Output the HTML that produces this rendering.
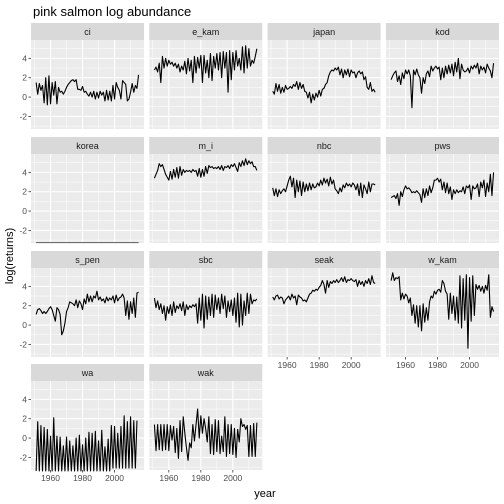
<!DOCTYPE html>
<html><head><meta charset="utf-8"><style>
body{margin:0;background:#fff;}
svg{display:block;font-family:"Liberation Sans",Arial,sans-serif;}
</style></head><body>
<svg id="c" width="504" height="504" viewBox="0 0 504 504">
<text x="33" y="16" font-size="13" fill="#000">pink salmon log abundance</text>
<text x="265" y="497" font-size="11" fill="#000" text-anchor="middle">year</text>
<text transform="translate(13,256) rotate(-90)" font-size="11" fill="#000" text-anchor="middle">log(returns)</text>
<g id="panels"></g>
</svg>
<script>
const startYear = 1951;
const panelNames = ["ci","e_kam","japan","kod","korea","m_i","nbc","pws","s_pen","sbc","seak","w_kam","wa","wak"];
const ci = [1.5,0.3,1.4,0.7,1.2,-0.6,2.0,-0.8,2.2,-0.7,1.5,0.2,1.6,-0.7,1.0,0.5,0.6,0.3,0.6,1.0,1.3,1.5,1.7,1.8,1.6,1.8,0.8,0.8,0.7,1.1,0.5,0.6,0.3,0.1,0.5,0,0.6,-0.2,0.5,-0.1,0.6,0.2,0.5,-0.4,0.7,-0.3,0.6,-0.4,1.2,-0.2,1.5,1.0,0.7,-0.2,1.7,1.5,1.3,-0.4,-0.2,0.5,1.4,0.5,1.2,0.9,2.3];
const e_kam = [2.8,3.1,2.6,3.5,1.5,4.2,3.0,4.0,3.2,3.8,3.4,3.6,3.2,3.5,3.0,3.4,2.6,3.2,2.8,3.7,2.4,4.0,2.7,3.8,1.5,4.2,2.5,4.1,3.0,4.3,1.5,4.3,2.5,3.8,2.0,4.5,1.7,4.2,3.0,4.5,2.8,4.6,2.0,4.7,3.0,4.6,0.5,4.8,1.8,4.6,2.8,4.8,3.2,4.0,2.8,5.2,2.5,5.3,3.0,5.0,3.2,3.8,3.5,4.2,5.0];
const japan = [0.6,0.3,1.4,0.6,1.3,0.4,1.0,0.5,1.2,0.8,0.9,1.1,0.9,1.3,1.1,1.6,0.8,1.5,0.9,1.3,0.6,0.5,-0.1,0.5,-0.6,0.3,-0.3,0.4,0.0,0.7,0.1,0.8,0.9,1.3,1.5,2.2,2.6,2.8,2.7,3.0,2.8,3.1,2.3,2.9,2.0,2.8,2.3,2.9,2.1,2.8,2.5,2.6,2.0,2.5,2.7,2.4,2.6,1.8,2.1,1.0,0.8,1.5,0.6,0.8,0.5];
const kod = [1.8,2.2,2.5,2.7,1.6,2.2,1.3,2.5,1.9,2.8,2.4,2.8,2.2,-1.1,2.8,2.3,2.9,2.3,2.0,0.4,2.0,1.4,2.4,2.7,2.1,3.2,2.7,3.0,3.2,2.9,3.1,1.8,3.0,2.0,3.2,2.4,3.3,2.5,3.4,2.2,3.6,2.6,4.0,1.9,3.4,2.8,2.6,2.7,3.0,2.5,3.2,2.9,3.3,3.0,3.5,2.4,3.2,2.8,3.1,2.5,3.4,3.0,2.7,2.0,3.5];
const korea = [-3.25,-3.25,-3.25,-3.25,-3.25,-3.25,-3.25,-3.25,-3.25,-3.25,-3.25,-3.25,-3.25,-3.25,-3.25,-3.25,-3.25,-3.25,-3.25,-3.25,-3.25,-3.25,-3.25,-3.25,-3.25,-3.25,-3.25,-3.25,-3.25,-3.25,-3.25,-3.25,-3.25,-3.25,-3.25,-3.25,-3.25,-3.25,-3.25,-3.25,-3.25,-3.25,-3.25,-3.25,-3.25,-3.25,-3.25,-3.25,-3.25,-3.25,-3.25,-3.25,-3.25,-3.25,-3.25,-3.25,-3.25,-3.25,-3.25,-3.25,-3.25,-3.25,-3.25,-3.25,-3.25];
const m_i = [3.4,3.8,4.2,4.9,4.6,4.8,4.3,3.8,3.5,3.2,4.1,3.3,4.3,3.5,4.5,3.4,4.6,3.7,4.3,4.0,4.2,4.1,4.2,4.0,4.3,4.1,4.2,3.6,4.4,3.5,4.3,3.6,4.6,3.9,4.7,4.5,4.6,4.4,4.5,4.4,4.6,4.3,4.7,4.2,4.6,4.5,4.7,4.4,4.8,4.6,4.9,4.5,4.1,5.0,4.6,5.2,4.7,5.4,4.8,5.2,4.9,5.1,4.6,4.6,4.2];
const nbc = [2.4,1.6,2.3,1.5,2.2,1.8,2.1,2.3,2.0,2.6,3.2,3.6,2.5,3.4,1.4,3.2,2.0,3.1,1.6,3.0,2.0,2.8,2.1,2.9,2.2,2.8,2.4,2.5,2.9,2.6,3.2,2.7,3.4,2.9,3.3,2.6,3.5,2.8,3.2,2.3,2.1,1.8,2.4,2.0,2.7,2.4,2.9,2.6,2.8,2.5,2.9,2.7,2.2,2.8,1.6,2.9,1.4,2.7,2.3,1.8,3.0,2.0,2.8,2.8,2.7];
const pws = [1.4,1.5,1.6,1.3,1.8,0.6,2.0,1.5,2.2,2.6,2.3,2.4,2.2,1.9,2.0,1.9,2.1,1.9,1.7,0.9,2.3,1.4,2.3,1.6,2.6,1.9,2.4,3.2,3.2,3.4,3.0,3.3,2.2,3.0,1.9,2.9,1.8,2.5,1.2,2.2,1.8,2.2,1.9,2.1,2.0,2.5,1.8,2.6,2.4,2.7,1.2,2.6,2.3,2.4,2.8,1.5,3.0,2.4,3.2,1.5,2.9,2.0,3.8,1.6,4.0];
const s_pen = [1.1,1.6,1.7,1.5,1.2,1.4,1.2,1.4,1.7,1.9,1.6,1.0,0.4,1.8,1.6,1.1,-1.0,-0.6,0.2,1.4,1.8,2.4,2.3,2.2,2.0,2.6,1.8,2.5,2.2,1.6,2.7,2.2,3.2,2.4,3.0,2.4,3.0,2.8,3.5,2.6,2.9,2.5,2.7,2.3,2.9,2.5,2.8,2.6,3.0,2.3,3.1,2.5,2.8,2.9,3.2,2.8,1.0,2.5,0.6,2.4,1.2,2.8,0.8,3.3,3.4];
const sbc = [2.8,1.8,2.5,1.6,2.2,1.2,2.0,0.5,1.9,1.2,2.1,1.0,2.4,1.3,2.0,1.7,2.2,1.5,2.4,1.0,2.1,1.6,2.0,1.8,2.1,1.9,2.2,0.2,2.8,0.5,3.2,-0.3,3.0,0.6,2.9,1.0,3.2,0.8,3.1,1.6,2.8,1.2,3.2,1.7,3.0,0.8,2.5,1.4,2.6,1.0,2.8,0.3,3.3,-0.2,3.2,0.0,2.5,1.0,3.3,1.2,3.2,2.2,2.6,2.5,2.7];
const seak = [2.9,2.6,3.0,3.1,2.7,2.9,2.8,2.2,2.6,2.8,3.0,2.6,3.2,2.8,3.0,2.1,3.1,2.9,2.8,2.5,2.6,2.4,2.8,3.2,3.3,3.6,3.5,3.7,3.6,3.9,4.1,4.6,4.2,3.3,4.6,3.9,4.5,4.3,4.6,4.4,4.7,4.4,4.6,4.9,4.5,5.0,4.4,4.7,4.6,4.8,4.6,4.5,4.7,4.0,4.6,4.2,4.5,4.0,4.6,4.3,4.8,4.2,5.1,4.4,4.3];
const w_kam = [4.6,5.4,4.6,4.9,4.8,5.0,2.6,3.3,2.7,3.2,3.0,2.3,2.8,1.0,2.1,0.2,2.0,-0.2,2.0,-0.6,2.2,0.3,1.8,0.5,2.4,3.0,2.8,3.5,3.2,3.6,3.7,3.4,4.6,4.3,3.5,3.2,0.6,3.3,1.2,3.0,0.5,2.9,0.2,5.1,-0.3,4.8,0.5,5.2,-2.4,4.9,0.4,5.1,1.0,4.2,3.7,4.1,3.5,4.0,3.3,4.1,3.6,5.2,0.8,1.9,1.4];
const wa = [-3.4,1.7,-3.4,1.3,-3.4,1.1,-3.4,0.9,-3.4,0.2,-3.4,2.1,-3.4,0.2,-3.4,0.1,-3.4,-0.8,-3.4,0.1,-3.4,-0.3,-3.4,-0.8,-3.4,0.0,-3.4,0.3,-3.4,-0.7,-3.4,0.0,-3.4,0.6,-3.4,0.5,-3.4,0.7,-3.4,-0.3,-3.4,0.8,-3.4,-0.9,-3.4,-0.1,-3.4,1.3,-3.1,1.2,-3.1,0.5,-3.1,1.2,-3.1,2.3,-3.1,1.7,-3.1,2.2,-3.1,1.8,-3.1,1.8];
const wak = [1.4,-1.3,1.4,-1.2,1.4,-1.3,1.4,-1.2,1.4,-1.3,1.3,-0.2,1.2,-1.5,1.0,-2.1,1.8,-1.4,2.2,0.5,-1.0,-2.3,-0.5,-1.0,1.4,-0.3,1.4,3.0,0.0,2.3,0.5,2.0,1.0,-0.4,2.2,-1.6,1.4,-1.7,1.9,-1.4,1.8,-1.6,0.2,-1.4,2.2,-1.9,1.4,-1.6,1.4,-1.7,1.0,-2.0,0.9,-0.4,2.0,1.2,1.4,0.9,1.3,-1.9,1.3,-1.9,1.5,-1.9,1.6];
const seriesList = [ci,e_kam,japan,kod,korea,m_i,nbc,pws,s_pen,sbc,seak,w_kam,wa,wak];
const yTicks = [-2,0,2,4];
const yMinor = [-3,-1,1,3,5];
const xTicks = [1960,1980,2000];
const xMinor = [1950,1970,1990,2010];

const NS="http://www.w3.org/2000/svg";
const g=document.getElementById('panels');
const colLeft=[31,149.3,267.6,386], pw=113, ph=89, stripH=17;
const rowTop=[23,137,251,364];
const xMin=1947.8,xMax=2018.4,yMin=-3.3,yMax=5.9;
function el(t,a,p){const e=document.createElementNS(NS,t);for(const k in a)e.setAttribute(k,a[k]);(p||g).appendChild(e);return e;}
panelNames.forEach((name,i)=>{
  const r=Math.floor(i/4),c=i%4;
  const L=colLeft[c],T=rowTop[r]+stripH;
  const sx=v=>L+(v-xMin)/(xMax-xMin)*pw;
  const sy=v=>T+ph-(v-yMin)/(yMax-yMin)*ph;
  const pg=el('g',{});
  
  
  const st=el('rect',{x:L,y:rowTop[r],width:pw,height:stripH,fill:'#d9d9d9'},pg);
  
  
  const stt=el('text',{x:L+pw/2,y:rowTop[r]+12,'font-size':'9','text-anchor':'middle',fill:'#1a1a1a'},pg);
  stt.textContent=name;
  
  
  const bg=el('rect',{x:L,y:T,width:pw,height:ph,fill:'#ebebeb'},pg);
  
  
  yMinor.forEach(v=>el('line',{x1:L,x2:L+pw,y1:sy(v),y2:sy(v),stroke:'#fff','stroke-width':0.5},pg));
  xMinor.forEach(v=>el('line',{x1:sx(v),x2:sx(v),y1:T,y2:T+ph,stroke:'#fff','stroke-width':0.5},pg));
  yTicks.forEach(v=>el('line',{x1:L,x2:L+pw,y1:sy(v),y2:sy(v),stroke:'#fff','stroke-width':1.1},pg));
  xTicks.forEach(v=>el('line',{x1:sx(v),x2:sx(v),y1:T,y2:T+ph,stroke:'#fff','stroke-width':1.1},pg));
  const data=seriesList[i];
  const pts=data.map((v,j)=>sx(startYear+j).toFixed(2)+','+sy(v).toFixed(2)).join(' ');
  const ln=el('polyline',{points:pts,fill:'none',stroke:name==='korea'?'#6e6e6e':'#000','stroke-width':1.1,'stroke-linejoin':'round'},pg);
  
  
  if(c===0){
    yTicks.forEach(v=>{
      el('line',{x1:L-2.5,x2:L,y1:sy(v),y2:sy(v),stroke:'#333','stroke-width':0.8},pg);
      const t=el('text',{x:L-4,y:sy(v)+3,'font-size':'8.5','text-anchor':'end',fill:'#4d4d4d'},pg);
      t.textContent=v;
      
      
    });
  }
  if(r===3||(r===2&&c>=2)){
    xTicks.forEach(v=>{
      el('line',{x1:sx(v),x2:sx(v),y1:T+ph,y2:T+ph+2.5,stroke:'#333','stroke-width':0.8},pg);
      const t=el('text',{x:sx(v),y:T+ph+11,'font-size':'8.5','text-anchor':'middle',fill:'#4d4d4d'},pg);
      t.textContent=v;
      
      
    });
  }
});
</script>
</body></html>
